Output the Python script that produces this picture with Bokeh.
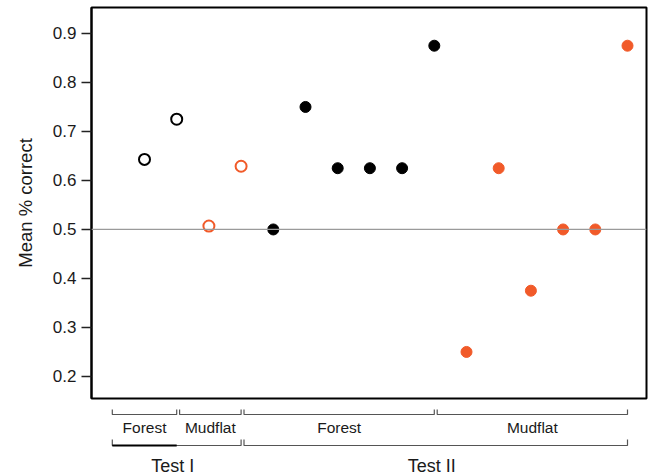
from bokeh.plotting import figure
from bokeh.layouts import column
from bokeh.models import Range1d, FixedTicker, Span, ColumnDataSource
from bokeh.embed import file_html
from bokeh.resources import INLINE
from bokeh.core.properties import value

# ---- data ----
positions = list(range(1, 17))
mean_correct = [0.643, 0.725, 0.507, 0.629,
                0.5, 0.75, 0.625, 0.625, 0.625, 0.875,
                0.25, 0.625, 0.375, 0.5, 0.5, 0.875]
test = ["Test I"] * 4 + ["Test II"] * 12
habitat = ["Forest", "Forest", "Mudflat", "Mudflat"] + ["Forest"] * 6 + ["Mudflat"] * 6
y_ticks = [0.2, 0.3, 0.4, 0.5, 0.6, 0.7, 0.8, 0.9]
chance_level = 0.5

FONT = "Liberation Sans"
ORANGE = "#F15A29"
colors = {"Forest": "#000000", "Mudflat": ORANGE}

# ---- main figure ----
p = figure(width=650, height=400, toolbar_location=None, output_backend="svg",
           x_range=Range1d(-0.646, 16.59), y_range=Range1d(0.155, 0.953),
           x_axis_location=None, min_border_left=91, min_border_right=4,
           min_border_top=7, min_border_bottom=2)
p.grid.visible = False
p.outline_line_color = "black"
p.outline_line_width = 2
p.background_fill_color = "white"
p.border_fill_color = "white"

p.add_layout(Span(location=chance_level, dimension="width",
                  line_color="#9a9a9a", line_width=1.2))

ox, oy, oc, fx, fy, fc = [], [], [], [], [], []
for x, y, t, h in zip(positions, mean_correct, test, habitat):
    if t == "Test I":
        ox.append(x); oy.append(y); oc.append(colors[h])
    else:
        fx.append(x); fy.append(y); fc.append(colors[h])
open_src = ColumnDataSource(dict(x=ox, y=oy, c=oc))
fill_src = ColumnDataSource(dict(x=fx, y=fy, c=fc))

p.scatter("x", "y", source=open_src, size=11, fill_color="white",
          line_color="c", line_width=2)
p.scatter("x", "y", source=fill_src, size=11, fill_color="c", line_color="c")

ax = p.yaxis[0]
ax.ticker = FixedTicker(ticks=y_ticks)
ax.minor_tick_line_color = None
ax.major_tick_in = 0
ax.major_tick_out = 10
ax.major_tick_line_color = "#222222"
ax.major_tick_line_width = 1.5
ax.axis_line_color = "black"
ax.axis_line_width = 2
ax.major_label_text_font = FONT
ax.major_label_text_font_size = "17px"
ax.major_label_text_color = "#1a1a1a"
ax.major_label_standoff = 5
ax.axis_label = "Mean % correct"
ax.axis_label_text_font = FONT
ax.axis_label_text_font_size = "18.5px"
ax.axis_label_text_font_style = "normal"
ax.axis_label_text_color = "#1a1a1a"
ax.axis_label_standoff = 14

# ---- bracket annotations ----
def runs(labels):
    out = []
    start = 0
    for i in range(1, len(labels) + 1):
        if i == len(labels) or labels[i] != labels[start]:
            out.append((labels[start], positions[start], positions[i - 1]))
            start = i
    return out

sub_labels = [f"{t}|{h}" for t, h in zip(test, habitat)]
sub_groups = [(lab.split("|")[1], a, b) for lab, a, b in runs(sub_labels)]
top_groups = runs(test)

q = figure(width=650, height=75, toolbar_location=None, output_backend="svg",
           x_range=p.x_range, y_range=Range1d(75, 0),
           x_axis_location=None, y_axis_location=None,
           min_border_left=91, min_border_right=4, min_border_top=0, min_border_bottom=0)
q.grid.visible = False
q.outline_line_color = None

GAP = 0.09

def bracket_paths(groups, y_tick, y_line):
    xs, ys, cx = [], [], []
    for k, (name, a, b) in enumerate(groups):
        x0 = a - 1 + (GAP if k > 0 else 0)
        x1 = b
        xs.append([x0, x0, x1, x1])
        ys.append([y_tick, y_line, y_line, y_tick])
        cx.append((x0 + x1) / 2)
    return xs, ys, cx

sxs, sys_, scx = bracket_paths(sub_groups, 9, 14)
q.multi_line(sxs, sys_, line_color="#555555", line_width=1.2)
q.text(x=scx, y=[27] * len(scx), text=[g[0] for g in sub_groups],
       text_align="center", text_baseline="middle",
       text_font=value(FONT), text_font_size="15.5px", text_color="#1a1a1a")

txs, tys, tcx = bracket_paths(top_groups, 39, 45)
q.multi_line(txs, tys, line_color="#555555", line_width=1.2)
# darker segment under the first sub-group of the first test
first = sub_groups[0]
q.line([first[1] - 1, first[2]], [45, 45], line_color="black", line_width=2)
q.text(x=tcx, y=[65] * len(tcx), text=[g[0] for g in top_groups],
       text_align="center", text_baseline="middle", x_offset=-4,
       text_font=value(FONT), text_font_size="18px", text_color="#1a1a1a")

layout = column(p, q, spacing=0)
open("out.html", "w").write(file_html(layout, INLINE))
